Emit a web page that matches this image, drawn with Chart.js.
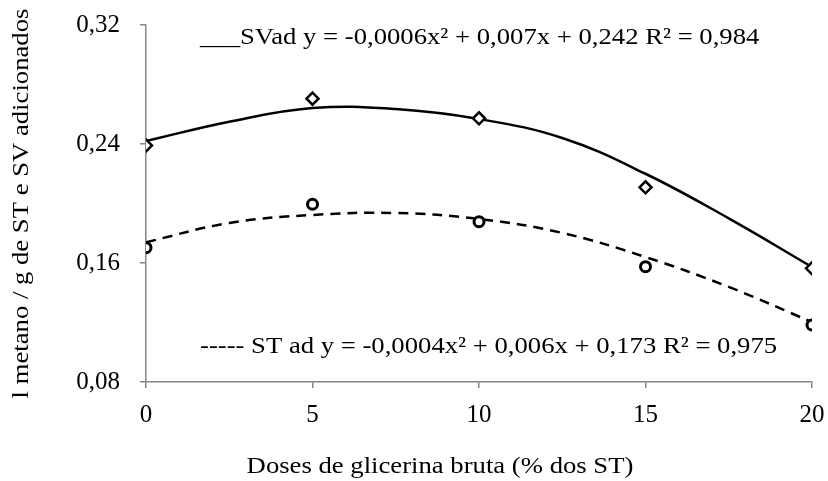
<!DOCTYPE html>
<html>
<head>
<meta charset="utf-8">
<script src="https://cdn.jsdelivr.net/npm/chart.js@4"></script>
<style>
  html, body { margin:0; padding:0; background:#fff; }
  #wrap { width:828px; height:481px; }
</style>
</head>
<body>
<div id="wrap"><canvas id="chart" width="828" height="481"></canvas></div>
<script>
// doses (x) and observed values
const doses = [0, 5, 10, 15, 20];
const svadObs = [0.239, 0.2705, 0.2573, 0.2109, 0.1564];
const stadObs = [0.1703, 0.1995, 0.1878, 0.1575, 0.1183];

// trend curves
const trendX = [0, 2.5, 5, 7.5, 10, 12.5, 15, 17.5, 20];
const svadTrend = [0.242, 0.255, 0.2642, 0.2635, 0.2568, 0.244, 0.220, 0.190, 0.1573];
const stadTrend = [0.174, 0.1869, 0.1923, 0.1936, 0.1896, 0.1802, 0.164, 0.1439, 0.1203];

const yTicks = [0.08, 0.16, 0.24, 0.32];
const xTicks = [0, 5, 10, 15, 20];

const svadLabel = '___SVad y = -0,0006x² + 0,007x + 0,242 R² = 0,984';
const stadLabel = '----- ST ad y = -0,0004x² + 0,006x + 0,173 R² = 0,975';
const xTitle = 'Doses de glicerina bruta (% dos ST)';
const yTitle = 'l metano / g de ST e SV adicionados';

const FONT = '"Liberation Serif", "Times New Roman", serif';
const axisGrey = '#868686';
const STRETCH = 1.16; // the reference text is a bit wide

const pts = (xs, ys) => xs.map((x, i) => ({x: x, y: ys[i]}));

function wideText(ctx, txt, x, y, align){
    ctx.save();
    ctx.translate(x, y);
    ctx.scale(STRETCH, 1);
    ctx.textAlign = align;
    ctx.fillText(txt, 0, 0);
    ctx.restore();
}

// text drawn on top: equations and axis titles
const textPlugin = {
    id: 'texts',
    afterDraw(chart){
        const ctx = chart.ctx;
        const area = chart.chartArea;
        ctx.save();
        ctx.fillStyle = '#000';
        ctx.font = '23px ' + FONT;
        ctx.textBaseline = 'alphabetic';
        wideText(ctx, svadLabel, 200, 44, 'left');
        wideText(ctx, stadLabel, 200, 353, 'left');
        wideText(ctx, xTitle, 440, 473, 'center');
        ctx.translate(28, (area.top + area.bottom) / 2);
        ctx.rotate(-Math.PI / 2);
        wideText(ctx, yTitle, 0, 0, 'center');
        ctx.restore();
    }
};

new Chart(document.getElementById('chart').getContext('2d'), {
    type: 'scatter',
    data: {
        datasets: [
            {label:'SVad', data: pts(doses, svadObs), pointStyle:'rectRot', pointRadius:6, pointBorderWidth:2.5,
             pointBackgroundColor:'#fff', pointBorderColor:'#000', showLine:false},
            {label:'ST ad', data: pts(doses, stadObs), pointStyle:'circle', pointRadius:5, pointBorderWidth:3,
             pointBackgroundColor:'#fff', pointBorderColor:'#000', showLine:false},
            {type:'line', label:'SVad trend', data: pts(trendX, svadTrend), borderColor:'#000', borderWidth:2.5,
             pointRadius:0, tension:0.4, fill:false},
            {type:'line', label:'ST ad trend', data: pts(trendX, stadTrend), borderColor:'#000', borderWidth:2.5,
             borderDash:[10,7], pointRadius:0, tension:0.4, fill:false}
        ]
    },
    options: {
        responsive:false,
        animation:false,
        layout:{padding:{top:25, right:16, bottom:39, left:0}},
        plugins:{legend:{display:false}, tooltip:{enabled:false}},
        scales:{
            x:{
                type:'linear', min:0, max:20,
                afterBuildTicks: s => { s.ticks = xTicks.map(v => ({value:v})); },
                afterFit: s => { s.height = 60; s.paddingLeft = 0; s.paddingRight = 0; },
                grid:{drawOnChartArea:false, color:axisGrey, tickLength:6, lineWidth:1.5},
                border:{color:axisGrey, width:1.5},
                ticks:{color:'#000', padding:12, font:{family:FONT, size:25}}
            },
            y:{
                min:0.08, max:0.32,
                afterBuildTicks: s => { s.ticks = yTicks.map(v => ({value:v})); },
                afterFit: s => { s.width = 146; s.paddingTop = 0; s.paddingBottom = 0; },
                grid:{drawOnChartArea:false, color:axisGrey, tickLength:6, lineWidth:1.5},
                border:{color:axisGrey, width:1.5},
                ticks:{color:'#000', padding:20, font:{family:FONT, size:25},
                       callback: v => v.toFixed(2).replace('.', ',')}
            }
        }
    },
    plugins:[textPlugin]
});
</script>
</body>
</html>
